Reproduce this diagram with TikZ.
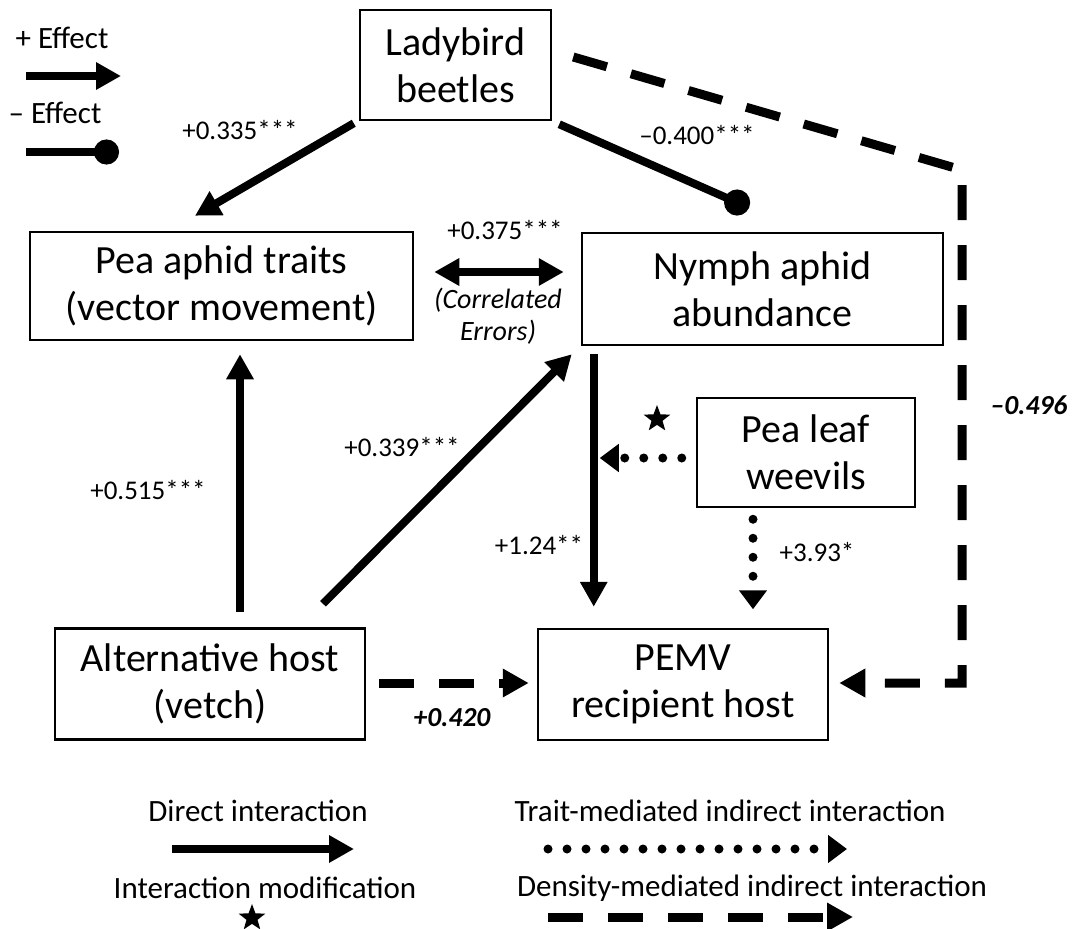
\documentclass[tikz,border=0pt]{standalone}
\usepackage{fontspec}
\setmainfont{Carlito}
\usetikzlibrary{arrows.meta,calc,shapes.geometric}
\begin{document}
\begin{tikzpicture}[x=1pt,y=-1pt,
  box/.style={draw,line width=2.5pt,inner sep=0pt,align=center,font=\fontsize{40}{47}\selectfont},
  lbl/.style={inner sep=0pt,align=center,font=\fontsize{27}{32}\selectfont},
  leg/.style={inner sep=0pt,align=center,font=\fontsize{31}{36}\selectfont},
  blbl/.style={inner sep=0pt,font=\fontsize{27.5}{32}\selectfont\bfseries\itshape},
  arr/.style={line width=8pt,-{Triangle[length=25pt,width=26pt]}},
  darr/.style={line width=8pt,{Triangle[length=25pt,width=26pt]}-{Triangle[length=25pt,width=26pt]}},
  circarr/.style={line width=8pt,-{Circle[length=26pt]}},
  dotarr/.style={line width=9pt,line cap=round,dash pattern=on 0pt off 19pt,-{Triangle[length=19pt,width=27pt]}},
  dasharr/.style={line width=9pt,dash pattern=on 35pt off 25pt,-{Triangle[length=26pt,width=27pt]}},
  starmark/.style={star,star points=5,star point ratio=2.4,fill=black,minimum size=28pt,inner sep=0pt}
]
\useasboundingbox (0,0) rectangle (1072,929);

% boxes
\node[box,minimum width=191pt,minimum height=110pt] (lady) at (455.5,65) {Ladybird\\beetles};
\node[box,minimum width=383pt,minimum height=108pt] (pea) at (221.5,286) {Pea aphid traits\\(vector movement)};
\node[box,minimum width=361pt,minimum height=112pt] (nymph) at (762.5,289) {Nymph aphid\\abundance};
\node[box,minimum width=218pt,minimum height=109pt] (weevil) at (806,452.5) {Pea leaf\\weevils};
\node[box,minimum width=310pt,minimum height=111pt] (alt) at (210,684) {Alternative host\\(vetch)};
\node[box,minimum width=290pt,minimum height=111pt] (pemv) at (683,684.5) {PEMV\\recipient host};

% connectors
\draw[arr] ($(lady.south west)+(-5,2)$) -- ($(pea.north)+(-26.5,-15)$);
\draw[circarr] ($(lady.south east)+(7,3)$) -- ($(nymph.north)+(-13.5,-24)$);
\coordinate (c1) at (962,170);
\coordinate (c2) at (962,683);
\draw[dasharr,line join=miter] ($(lady.east)+(21,-8)$) -- (c1) -- (c2) -- ($(pemv.east)+(10,-1.5)$);
\draw[darr] ($(pea.east)+(20,-14)$) -- ($(nymph.west)+(-17,-17)$);
\draw[arr] ($(alt.north)+(30,-15)$) -- ($(pea.south)+(18.5,13)$);
\draw[arr] ($(alt.north)+(113,-23.5)$) -- ($(nymph.south west)+(-9,8)$);
\draw[arr] ($(nymph.south west)+(13,8)$) -- ($(pemv.north west)+(57,-21)$);
\draw[dotarr] ($(weevil.west)+(-14,5.5)$) -- ($(weevil.west)+(-96,5.5)$);
\draw[dotarr] ($(weevil.south)+(-53,11)$) -- ($(weevil.south)+(-53,101)$);
\draw[dasharr] ($(alt.east)+(13,-1)$) -- ($(pemv.west)+(-8,-1.5)$);
\node[starmark] (st1) at (657,419) {};

% labels
\node[lbl] (l335) at (240,130) {+0.335***};
\node[lbl] (l400) at (697,135) {–0.400***};
\node[lbl] (l375) at (505,230) {+0.375***};
\node[lbl,font=\fontsize{28}{32}\selectfont\itshape] (corr) at (498,316) {(Correlated\\Errors)};
\node[lbl] (l515) at (148,490) {+0.515***};
\node[lbl] (l339) at (402,447) {+0.339***};
\node[lbl] (l124) at (539,545) {+1.24**};
\node[lbl] (l393) at (817,552) {+3.93*};
\node[blbl] (l420) at (452,718) {+0.420};
\node[blbl] (l496) at (1029,405) {–0.496};

% legend top-left
\node[leg] (lgp) at (62,38) {+ Effect};
\node[leg] (lgm) at (55,113) {– Effect};
\coordinate (pa) at (26,76);
\coordinate (pb) at (121,76);
\draw[arr] (pa) -- (pb);
\coordinate (ma) at (26,152);
\coordinate (mb) at (119,152);
\draw[circarr,-{Circle[length=25pt]}] (ma) -- (mb);

% legend bottom
\node[leg] (ldir) at (258,811) {Direct interaction};
\coordinate (da) at (172,849);
\coordinate (db) at (354,849);
\draw[arr] (da) -- (db);
\node[leg] (lmod) at (265,888) {Interaction modification};
\node[starmark] (st2) at (252,918) {};
\node[leg] (ltra) at (730,811) {Trait-mediated indirect interaction};
\coordinate (ta) at (548,849);
\coordinate (tb) at (847,849);
\draw[dotarr] (ta) -- (tb);
\node[leg] (lden) at (752,888) {Density-mediated indirect interaction};
\coordinate (ea) at (548,917);
\coordinate (eb) at (853,917);
\draw[dasharr] (ea) -- (eb);
\end{tikzpicture}
\end{document}
